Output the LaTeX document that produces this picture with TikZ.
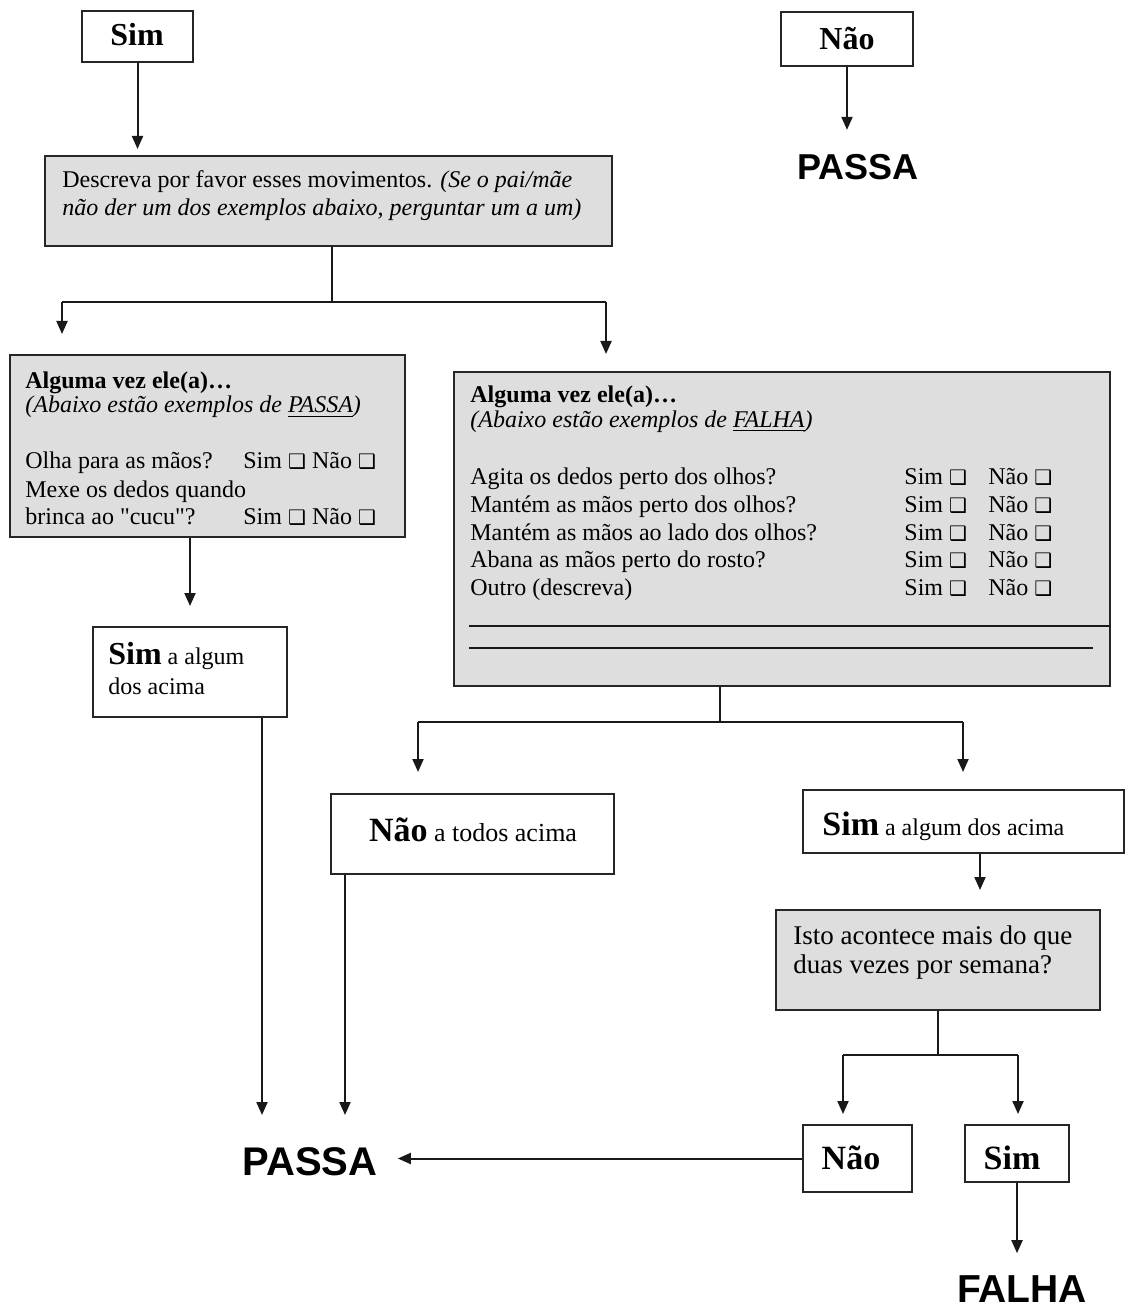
\documentclass[tikz,border=0pt]{standalone}
\usepackage{fontspec}
\setmainfont{Liberation Serif}
\newfontfamily\headfont{Liberation Sans}
\newfontfamily\symfont{DejaVu Sans}
% same serif without TeX ligature mapping, for straight quotes
\newfontfamily\plainserif{Liberation Serif}
\usetikzlibrary{fit,arrows.meta}
% shadowed answer box
\newcommand\chkbox{{\symfont\fontsize{10}{10}\selectfont ❑}}

\begin{document}
\begin{tikzpicture}[x=0.5pt,y=-0.5pt,
  box/.style={draw=black!85, line width=1pt, inner sep=0pt, fill=white},
  shaded/.style={box, fill=black!13},
  txt/.style={anchor=base west, inner sep=0pt, font=\fontsize{12}{14}\selectfont},
  big/.style={anchor=base, inner sep=0pt, font=\fontsize{#1}{#1}\selectfont\bfseries},
  verdict/.style={inner sep=0pt, font=\headfont\bfseries\fontsize{#1}{#1}\selectfont},
  link/.style={line width=1pt, black!90},
  arr/.style={link, -{Triangle[length=6.5pt,width=5.5pt]}},
]
\useasboundingbox (0,0) rectangle (1125,1309);

% ---- top answers
\node[box, fit={(82,11) (193,62)}] (simA) {};
\node[big=16] (simAt) at (137,46) {Sim};
\node[box, fit={(781,12) (913,66)}] (naoA) {};
\node[big=16] (naoAt) at (847,50) {Não};
\node[verdict=18] (passaA) at (858,167) {PASSA};

% ---- description request
\node[shaded, fit={(45,156) (612,246)}] (desc) {};
\node[txt] (desc1) at (62,188) {Descreva por favor esses movimentos. \textit{(Se o pai/mãe}};
\node[txt] (desc2) at (62,216) {\textit{não der um dos exemplos abaixo, perguntar um a um)}};

% ---- examples that pass
\node[shaded, fit={(10,355) (405,537)}] (passEx) {};
\node[txt] (pe1) at (25,389) {\textbf{Alguma vez ele(a)…}};
\node[txt] (pe2) at (25,413) {\textit{(Abaixo estão exemplos de \underline{PASSA})}};
\node[txt] (pe3) at (25,469) {Olha para as mãos?};
\node[txt] (pe4) at (25,497) {Mexe os dedos quando};
\node[txt] (pe5) at (25,524) {brinca ao {\plainserif "}cucu{\plainserif "}?};
\node[txt] (pe3a) at (243,469) {Sim \chkbox{} Não \chkbox};
\node[txt] (pe5a) at (243,524) {Sim \chkbox{} Não \chkbox};

% ---- examples that fail
\node[shaded, fit={(454,372) (1110,686)}] (falEx) {};
\node[txt] (fe1) at (470,403) {\textbf{Alguma vez ele(a)…}};
\node[txt] (fe2) at (470,428) {\textit{(Abaixo estão exemplos de \underline{FALHA})}};
\foreach \q [count=\i] in {{Agita os dedos perto dos olhos?},
                           {Mantém as mãos perto dos olhos?},
                           {Mantém as mãos ao lado dos olhos?},
                           {Abana as mãos perto do rosto?},
                           {Outro (descreva)}} {
  \node[txt] (fq\i) at (470,457.5+27.5*\i) {\q};
  \node[txt] (fs\i) at (904,457.5+27.5*\i) {Sim \chkbox};
  \node[txt] (fn\i) at (988,457.5+27.5*\i) {Não \chkbox};
}
\draw[link, line width=0.8pt] (469,626) -- (1110,626);
\draw[link, line width=0.8pt] (469,648) -- (1093,648);

% ---- outcome boxes
\node[box, fit={(93,627) (287,717)}] (simB) {};
\node[txt] (simB1) at (108,664) {{\fontsize{16}{18}\selectfont\bfseries Sim} a algum};
\node[txt] (simB2) at (108,694) {dos acima};

\node[box, fit={(331,794) (614,874)}] (naoB) {};
\node[anchor=base, inner sep=0pt] (naoBt) at (473,841)
  {{\fontsize{17}{19}\selectfont\bfseries Não}{\fontsize{13}{15}\selectfont{} a todos acima}};

\node[box, fit={(803,790) (1124,853)}] (simC) {};
\node[anchor=base west, inner sep=0pt] (simCt) at (822,835)
  {{\fontsize{17}{19}\selectfont\bfseries Sim}{\fontsize{12}{14}\selectfont{} a algum dos acima}};

\node[shaded, fit={(776,910) (1100,1010)}] (isto) {};
\node[txt, font=\fontsize{13.5}{15}\selectfont] (isto1) at (793,944) {Isto acontece mais do que};
\node[txt, font=\fontsize{13.5}{15}\selectfont] (isto2) at (793,973) {duas vezes por semana?};

\node[box, fit={(803,1125) (912,1192)}] (naoC) {};
\node[big=17] (naoCt) at (851,1169) {Não};
\node[box, fit={(965,1125) (1069,1182)}] (simD) {};
\node[big=17] (simDt) at (1012,1169) {Sim};

\node[verdict=20] (passaB) at (310,1162) {PASSA};
\node[verdict=19.5] (falha) at (1022,1289) {FALHA};

% ---- connectors
\coordinate (s1) at (332,302);
\coordinate (s1L) at (62,302);
\coordinate (s1R) at (606,302);
\coordinate (s2) at (720,722);
\coordinate (s2L) at (418,722);
\coordinate (s2R) at (963,722);
\coordinate (s3) at (938,1055);
\coordinate (s3L) at (843,1055);
\coordinate (s3R) at (1018,1055);
\coordinate (passInL) at (262,1115);
\coordinate (passInR) at (345,1115);
\coordinate (istoIn) at (980,890);

\draw[arr, shorten >=3pt] (simA.south) -- (simA.south |- desc.north);
\draw[arr, shorten >=12pt] (naoA.south) -- (naoA.south |- passaA.north);

\draw[link] (s1 |- desc.south) -- (s1);
\draw[link] (s1L) -- (s1R);
\draw[arr, shorten >=10pt] (s1L) -- (s1L |- passEx.north);
\draw[arr, shorten >=8.5pt] (s1R) -- (s1R |- falEx.north);

\draw[arr, shorten >=10pt] (simB.north |- passEx.south) -- (simB.north);
\draw[arr] (simB.south -| passInL) -- (passInL);

\draw[link] (s2 |- falEx.south) -- (s2);
\draw[link] (s2L) -- (s2R);
\draw[arr, shorten >=10.5pt] (s2L) -- (s2L |- naoB.north);
\draw[arr, shorten >=8.5pt] (s2R) -- (s2R |- simC.north);
\draw[arr] (naoB.south -| passInR) -- (passInR);

\draw[arr] (simC.south -| istoIn) -- (istoIn);
\draw[link] (isto.south) -- (s3);
\draw[link] (s3L) -- (s3R);
\draw[arr, shorten >=5pt] (s3L) -- (s3L |- naoC.north);
\draw[arr, shorten >=5pt] (s3R) -- (s3R |- simD.north);

\draw[arr, shorten >=10pt] (naoC.west) -- (naoC.west -| passaB.east);
\draw[arr, shorten >=11pt] (simD.south) -- (simD.south |- falha.north);
\end{tikzpicture}
\end{document}
